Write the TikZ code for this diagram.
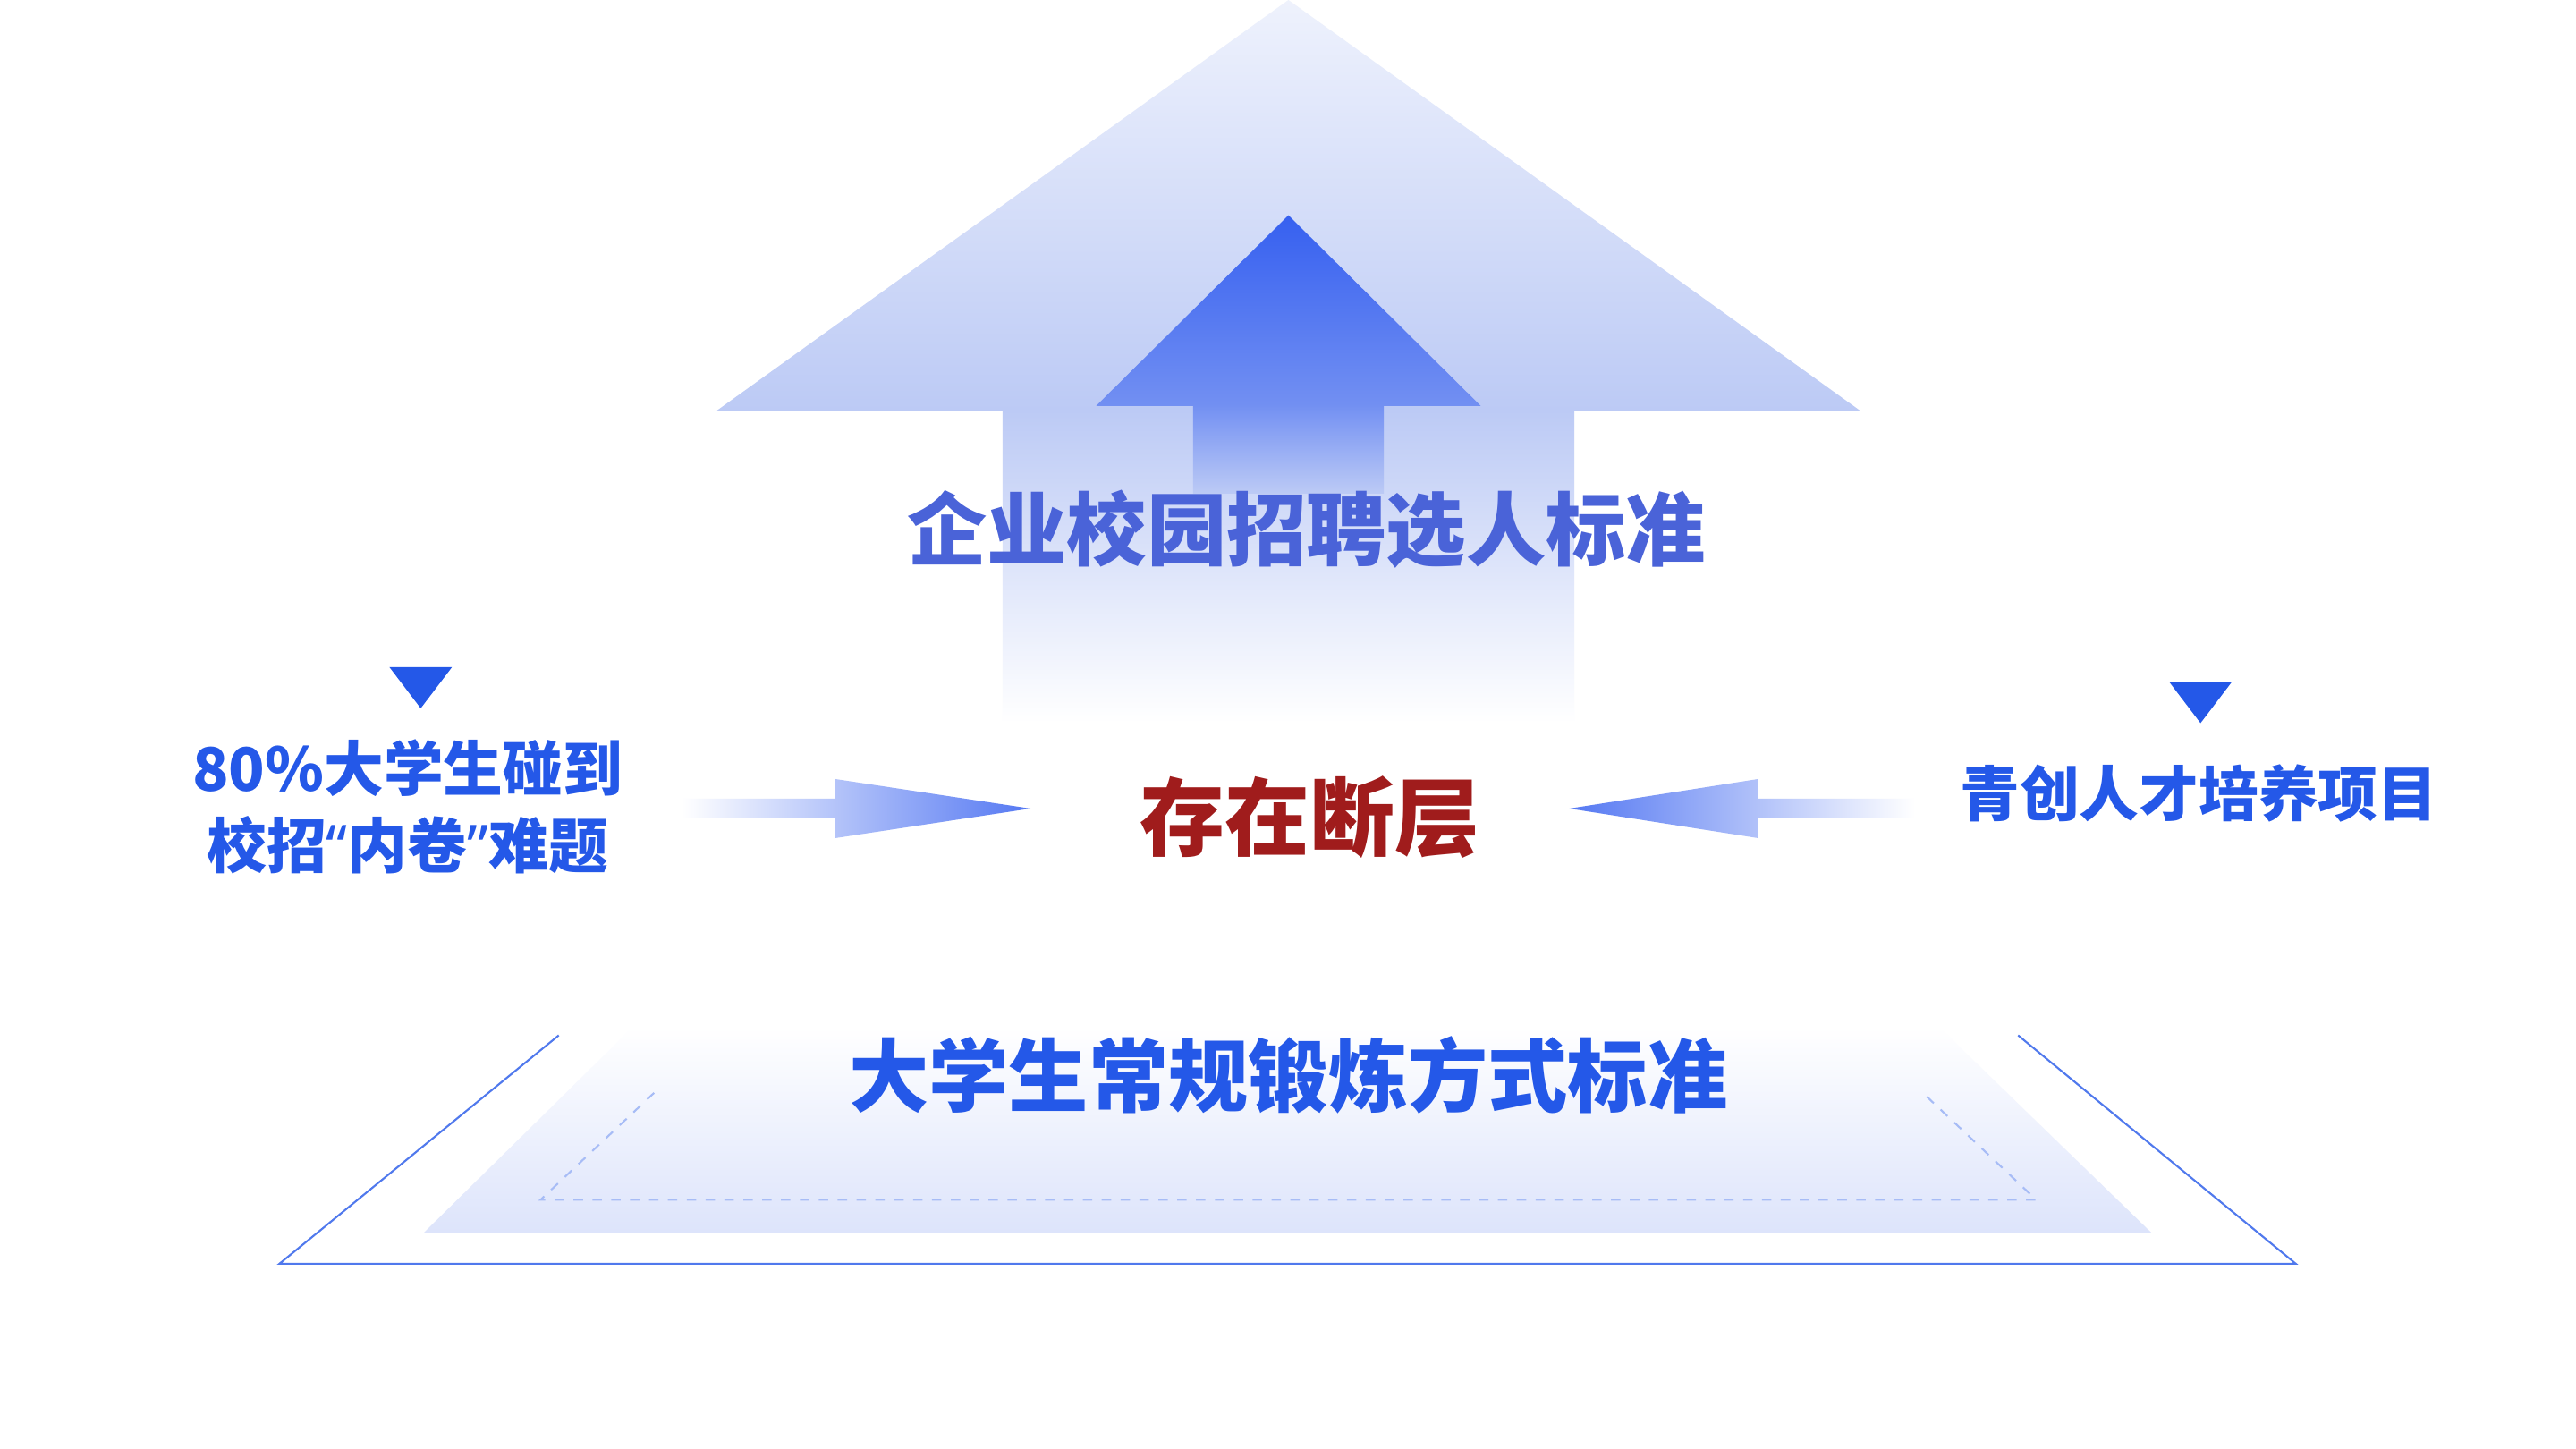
\documentclass[tikz,border=0pt]{standalone}
\usepackage{fontspec}
\setmainfont{Noto Sans CJK SC}
\newfontfamily\lat{Noto Sans}
\definecolor{tb}{HTML}{2458E8}
\definecolor{th}{HTML}{4A63D8}
\definecolor{tr}{HTML}{A01C1C}
\definecolor{pale}{HTML}{BCCAF5}
\definecolor{deep}{HTML}{3660F0}
\definecolor{plat}{HTML}{DDE4FB}
\tikzset{lbl/.style={font=\bfseries,inner sep=0pt,align=center}}
\begin{document}
\begin{tikzpicture}[x=0.018373cm,y=-0.018373cm]
\useasboundingbox (0,0) rectangle (1567.5,881.7);
\fill[white] (0,0) rectangle (1567.5,881.7);
% big arrow
\shade[top color=pale!25,bottom color=pale]
 (784,0) -- (1132,250) -- (436,250) -- cycle;
\shade[top color=pale,bottom color=white]
 (958,249.5) -- (958,440) -- (610,440) -- (610,249.5) -- cycle;
% inner arrow
\shade[top color=deep,bottom color=deep!55!pale]
 (784,131) -- (901,247) -- (667,247) -- cycle;
\shade[top color=deep!55!pale,bottom color=pale]
 (842,246.5) -- (842,300) -- (726,300) -- (726,246.5) -- cycle;
\node[lbl,text=th,font=\bfseries\fontsize{25.4pt}{30pt}\selectfont] (top) at (795,322) {企业校园招聘选人标准};
\node[lbl,text=tr,font=\bfseries\fontsize{27pt}{32pt}\selectfont] (mid) at (797,497) {存在断层};
% side arrows
\shade[left color=white,right color=deep!85]
 (415,486) -- (508,486) -- (508,474) -- (627,492) -- (508,510) -- (508,498) -- (415,498) -- cycle;
\shade[right color=white,left color=deep!85]
 (1165,486) -- (1070,486) -- (1070,474) -- (955,492) -- (1070,510) -- (1070,498) -- (1165,498) -- cycle;
% left label
\fill[tb] (237,406) -- (275,406) -- (256,431) -- cycle;
\node[lbl,text=tb,font=\bfseries\fontsize{19pt}{24.5pt}\selectfont] (lt) at (248,491) {80\%大学生碰到\\校招{\lat\bfseries “}内卷{\lat\bfseries ”}难题};
% right label
\fill[tb] (1320,415) -- (1358,415) -- (1339,440) -- cycle;
\node[lbl,text=tb,font=\bfseries\fontsize{19pt}{24pt}\selectfont] (rt) at (1338,483) {青创人才培养项目};
% platform
\shade[top color=white,bottom color=plat] (385,625) -- (1180,625) -- (1309,750) -- (258,750) -- cycle;
\draw[tb!80,line width=0.6pt] (340,630) -- (170,769) -- (1397,769) -- (1228,630);
\draw[tb!40,dashed,line width=0.6pt] (398,665) -- (329,730) -- (1239,730) -- (1170,665);
\node[lbl,text=tb,font=\bfseries\fontsize{25.4pt}{30pt}\selectfont] (bot) at (784,654) {大学生常规锻炼方式标准};
\end{tikzpicture}
\end{document}
